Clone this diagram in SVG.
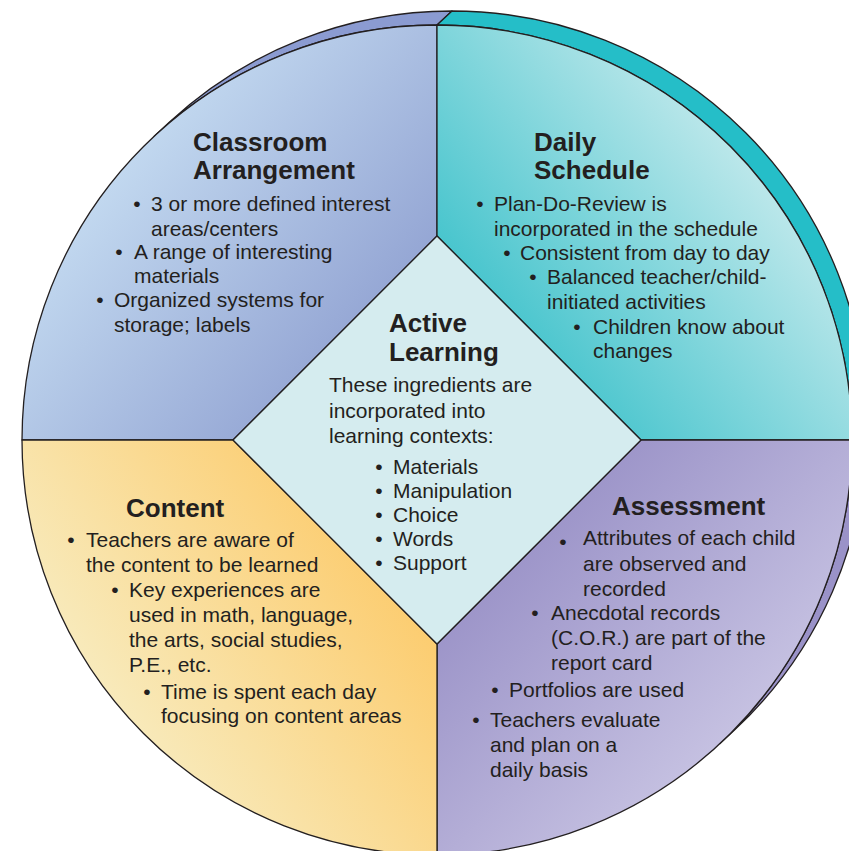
<svg xmlns="http://www.w3.org/2000/svg" width="849" height="851" viewBox="0 0 849 851">
<defs>
<linearGradient id="gTL" gradientUnits="userSpaceOnUse" x1="90" y1="160" x2="400" y2="420">
<stop offset="0" stop-color="#c6ddf2"/><stop offset="1" stop-color="#8797cc"/>
</linearGradient>
<linearGradient id="gTR" gradientUnits="userSpaceOnUse" x1="460" y1="400" x2="800" y2="120">
<stop offset="0" stop-color="#26bbc5"/><stop offset="1" stop-color="#d6eff1"/>
</linearGradient>
<linearGradient id="gBL" gradientUnits="userSpaceOnUse" x1="60" y1="720" x2="410" y2="480">
<stop offset="0" stop-color="#f7efc8"/><stop offset="1" stop-color="#fdc65f"/>
</linearGradient>
<linearGradient id="gBR" gradientUnits="userSpaceOnUse" x1="460" y1="470" x2="770" y2="770">
<stop offset="0" stop-color="#8e85c0"/><stop offset="1" stop-color="#cdc9e6"/>
</linearGradient>
</defs>
<style>
.edge{stroke:#231f20;stroke-width:1.3;stroke-linejoin:round}
.t{font-family:"Liberation Sans",Arial,Helvetica,sans-serif;fill:#231f20}
.h{font-size:26px;font-weight:bold}
.b{font-size:21px}
.bl{font-size:21px;text-anchor:middle}
</style>
<g id="band">
<path class="edge" fill="#8b9bd1" d="M154,136.5 L169,122.5 A415,415 0 0 1 452,11 L437,25 A415,415 0 0 0 154,136.5 Z"/>
<path class="edge" fill="#25bec8" d="M437,25 L452,11 A415,415 0 0 1 867,426 L852,440 A415,415 0 0 0 437,25 Z"/>
<path class="edge" fill="#9a92c8" d="M852,440 L867,426 A415,415 0 0 1 735,729.5 L720,743.5 A415,415 0 0 0 852,440 Z"/>
</g>
<g id="classroom">
<path class="edge" fill="url(#gTL)" d="M22,440 A415,415 0 0 1 437,25 L437,236 L233,440 Z"/>
<text class="t h" x="193" y="151">Classroom</text>
<text class="t h" x="193" y="179">Arrangement</text>
<text class="t bl" x="137" y="211">•</text>
<text class="t b" x="151" y="211">3 or more defined interest</text>
<text class="t b" x="151" y="236">areas/centers</text>
<text class="t bl" x="119" y="259">•</text>
<text class="t b" x="134" y="259">A range of interesting</text>
<text class="t b" x="134" y="283">materials</text>
<text class="t bl" x="100" y="307">•</text>
<text class="t b" x="114" y="307">Organized systems for</text>
<text class="t b" x="114" y="332">storage; labels</text>
</g>
<g id="schedule">
<path class="edge" fill="url(#gTR)" d="M437,25 A415,415 0 0 1 852,440 L641,440 L437,236 Z"/>
<text class="t h" x="534" y="151">Daily</text>
<text class="t h" x="534" y="179">Schedule</text>
<text class="t bl" x="480" y="211">•</text>
<text class="t b" x="494" y="211">Plan-Do-Review is</text>
<text class="t b" x="494" y="236">incorporated in the schedule</text>
<text class="t bl" x="507" y="260">•</text>
<text class="t b" x="520" y="260">Consistent from day to day</text>
<text class="t bl" x="533" y="284">•</text>
<text class="t b" x="547" y="284">Balanced teacher/child-</text>
<text class="t b" x="547" y="309">initiated activities</text>
<text class="t bl" x="577" y="334">•</text>
<text class="t b" x="593" y="334">Children know about</text>
<text class="t b" x="593" y="358">changes</text>
</g>
<g id="assessment">
<path class="edge" fill="url(#gBR)" d="M852,440 A415,415 0 0 1 437,855 L437,644 L641,440 Z"/>
<text class="t h" x="612" y="515">Assessment</text>
<text class="t bl" x="563" y="549">•</text>
<text class="t b" x="583" y="545">Attributes of each child</text>
<text class="t b" x="583" y="571">are observed and</text>
<text class="t b" x="583" y="596">recorded</text>
<text class="t bl" x="535" y="620">•</text>
<text class="t b" x="551" y="620">Anecdotal records</text>
<text class="t b" x="551" y="645">(C.O.R.) are part of the</text>
<text class="t b" x="551" y="670">report card</text>
<text class="t bl" x="495" y="697">•</text>
<text class="t b" x="509" y="697">Portfolios are used</text>
<text class="t bl" x="476" y="727">•</text>
<text class="t b" x="490" y="727">Teachers evaluate</text>
<text class="t b" x="490" y="752">and plan on a</text>
<text class="t b" x="490" y="777">daily basis</text>
</g>
<g id="content">
<path class="edge" fill="url(#gBL)" d="M437,855 A415,415 0 0 1 22,440 L233,440 L437,644 Z"/>
<text class="t h" x="126" y="517">Content</text>
<text class="t bl" x="71" y="547">•</text>
<text class="t b" x="86" y="547">Teachers are aware of</text>
<text class="t b" x="86" y="572">the content to be learned</text>
<text class="t bl" x="115" y="597">•</text>
<text class="t b" x="129" y="597">Key experiences are</text>
<text class="t b" x="129" y="622">used in math, language,</text>
<text class="t b" x="129" y="647">the arts, social studies,</text>
<text class="t b" x="129" y="672">P.E., etc.</text>
<text class="t bl" x="147" y="699">•</text>
<text class="t b" x="161" y="699">Time is spent each day</text>
<text class="t b" x="161" y="723">focusing on content areas</text>
</g>
<g id="active-learning">
<path class="edge" fill="#d5ecef" d="M437,236 L641,440 L437,644 L233,440 Z"/>
<text class="t h" x="389" y="332">Active</text>
<text class="t h" x="389" y="361">Learning</text>
<text class="t b" x="329" y="392">These ingredients are</text>
<text class="t b" x="329" y="418">incorporated into</text>
<text class="t b" x="329" y="443">learning contexts:</text>
<text class="t bl" x="379" y="474">•</text>
<text class="t b" x="393" y="474">Materials</text>
<text class="t bl" x="379" y="498">•</text>
<text class="t b" x="393" y="498">Manipulation</text>
<text class="t bl" x="379" y="522">•</text>
<text class="t b" x="393" y="522">Choice</text>
<text class="t bl" x="379" y="546">•</text>
<text class="t b" x="393" y="546">Words</text>
<text class="t bl" x="379" y="570">•</text>
<text class="t b" x="393" y="570">Support</text>
</g>
<g id="connectors"></g>
</svg>
